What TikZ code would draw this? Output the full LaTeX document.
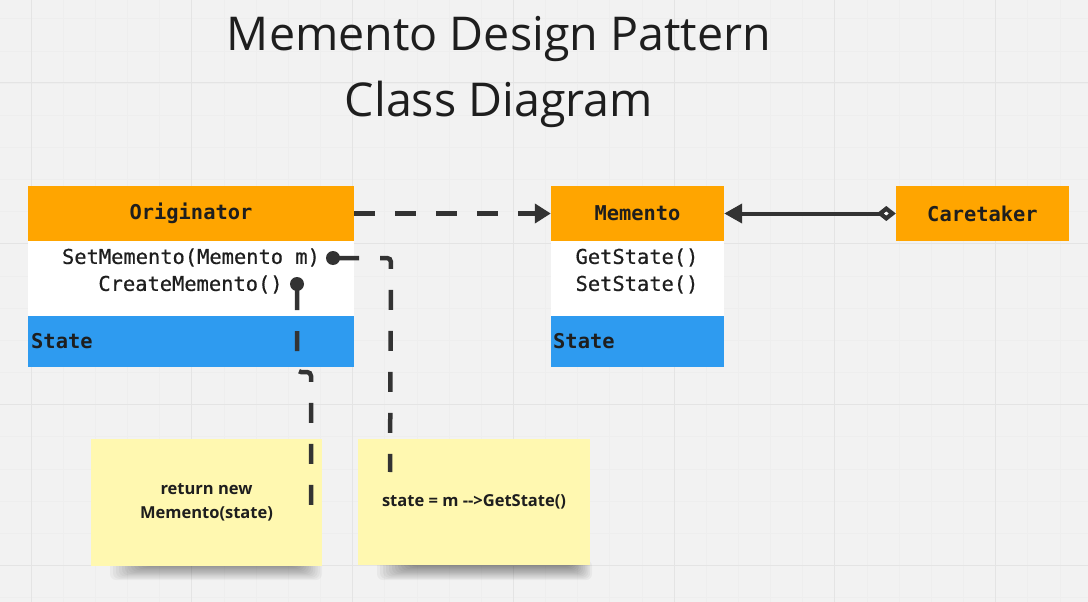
\documentclass[tikz,border=0pt]{standalone}
\usepackage{fontspec}
\setmainfont{Open Sans}
\setmonofont{DejaVu Sans Mono}
\newfontfamily\monosemi{DejaVu Sans Mono}[FakeBold=0.6]
\usetikzlibrary{arrows.meta}
\definecolor{bgc}{HTML}{F2F2F2}
\definecolor{gridmajor}{HTML}{E4E4E4}
\definecolor{gridminor}{HTML}{EEEEEE}
\definecolor{orangec}{HTML}{FFA500}
\definecolor{bluec}{HTML}{2E9BF0}
\definecolor{linec}{HTML}{333333}
\definecolor{textc}{HTML}{1E1E1E}
\definecolor{notec}{HTML}{FFF8B0}
\begin{document}
\begin{tikzpicture}[x=1pt,y=-1pt,
  hdr/.style={fill=orangec, draw=none, inner sep=0pt, text=textc, font=\ttfamily\bfseries\fontsize{20.4}{24}\selectfont},
  bodybox/.style={fill=white, draw=none, inner sep=0pt},
  statebox/.style={fill=bluec, draw=none, inner sep=0pt},
  meth/.style={inner sep=0pt, text=textc, font=\monosemi\fontsize{20.4}{24}\selectfont},
  attr/.style={inner sep=0pt, anchor=west, text=textc, font=\ttfamily\bfseries\fontsize{20.4}{24}\selectfont},
  note/.style={fill=notec, draw=none, inner sep=0pt, align=center, text=textc, font=\bfseries\fontsize{16.5}{24}\selectfont},
  conn/.style={draw=linec, line width=4.5pt, dash pattern=on 20pt off 21pt, rounded corners=4pt},
  titlefont/.style={inner sep=0pt, anchor=base, text=textc, font=\fontsize{46.6}{56}\selectfont}
]
\useasboundingbox (0,0) rectangle (1088,602);
% background and grid
\begin{scope}
\clip (0,0) rectangle (1088,602);
\fill[bgc] (0,0) rectangle (1088,602);
\foreach \i in {-1,...,33} {
  \draw[gridminor, line width=0.6pt] ({31+32.15*\i},0) -- ({31+32.15*\i},602);
}
\foreach \j in {-3,...,16} {
  \draw[gridminor, line width=0.6pt] (0,{83+32.15*\j}) -- (1088,{83+32.15*\j});
}
\foreach \i in {0,...,6} {
  \draw[gridmajor, line width=1pt] ({31+160.75*\i},0) -- ({31+160.75*\i},602);
}
\foreach \j in {0,...,3} {
  \draw[gridmajor, line width=1pt] (0,{83+160.75*\j}) -- (1088,{83+160.75*\j});
}
\end{scope}

% title
\node[titlefont] (t1) at (499,51) {Memento Design Pattern};
\node[titlefont] (t2) at (499,117) {Class Diagram};

% Originator class
\node[hdr, minimum width=326pt, minimum height=55pt] (orig) at (191,213.5) {Originator};
\node[bodybox, minimum width=326pt, minimum height=75pt] (origbody) at (191,278.5) {};
\node[statebox, minimum width=326pt, minimum height=51pt] (origstate) at (191,341.5) {};
\node[meth] (setm) at (191,257.5) {SetMemento(Memento m)};
\node[meth] (crm) at (190.5,284.5) {CreateMemento()};
\node[attr] (origattr) at (31,341) {State};

% Memento class
\node[hdr, minimum width=173pt, minimum height=55pt] (mem) at (637.5,213.5) {Memento};
\node[bodybox, minimum width=173pt, minimum height=75pt] (membody) at (637.5,278.5) {};
\node[statebox, minimum width=173pt, minimum height=51pt] (memstate) at (637.5,341.5) {};
\node[meth] (gets) at (637,257.5) {GetState()};
\node[meth] (sets) at (637,284.5) {SetState()};
\node[attr] (memattr) at (553,341) {State};

% Caretaker
\node[hdr, minimum width=173pt, minimum height=55pt] (care) at (982.5,213.5) {Caretaker};

% note shadows (soft)
\foreach \k in {0,...,11} {
  \fill[black, opacity=0.035, rounded corners=6pt] ({110+3*\k},560) rectangle ({322-2.2*\k},{580-1.2*\k});
  \fill[black, opacity=0.04, rounded corners=6pt] ({377+3*\k},560) rectangle ({592-1.8*\k},{580-1.2*\k});
}
% notes
\node[note, minimum width=231pt, minimum height=127pt] (n1) at (206.5,502.5) {return new\\Memento(state)};
\node[note, minimum width=232pt, minimum height=126pt] (n2) at (474,502) {state = m -{}->GetState()};

% connector dots
\coordinate (d1) at (333,258);
\coordinate (d2) at (297,284);
\fill[linec] (d1) circle (7pt);
\fill[linec] (d2) circle (7pt);
\coordinate (e1) at (390,472);
\coordinate (e2) at (311,507);
\draw[conn] ([xshift=6pt]d1) -- (391,258) -- (e1);
\draw[conn] ([yshift=-6pt]d2) -- (297,372) -- (311,372) -- (e2);

% Originator -> Memento dashed dependency
\draw[draw=linec, line width=4.5pt, dash pattern=on 21pt off 20pt, -{Triangle[length=16pt,width=19pt]}] (orig.east) -- (mem.west);
% Caretaker aggregation of Memento
\draw[draw=linec, line width=4pt, {Triangle[length=18pt,width=19pt]}-{Diamond[length=19pt,width=15pt,fill=white,line width=4.2pt]}] (mem.east) -- (care.west);
\end{tikzpicture}
\end{document}
